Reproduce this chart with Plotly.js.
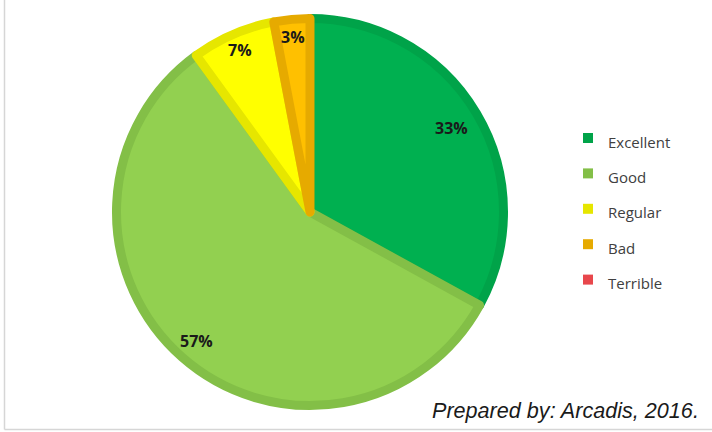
<!DOCTYPE html>
<html>
<head>
<meta charset="utf-8">
<script src="https://cdn.plot.ly/plotly-3.0.1.min.js"></script>
<style>html,body{margin:0;padding:0;background:#fff;}#chart{width:712px;height:432px;}</style>
</head>
<body>
<div id="chart"></div>
<script>
// ---- data ----
const labels = ['Excellent', 'Good', 'Regular', 'Bad', 'Terrible'];
const values = [33, 57, 7, 3, 0];
const fillColors = ['#00B050', '#92D050', '#FFFF00', '#FFC000', '#E8474C'];
const edgeColors = ['#00A349', '#83BF47', '#E6E600', '#E6AA00', '#E8474C'];
const sourceNote = 'Prepared by: Arcadis, 2016.';

// ---- layout constants ----
const W = 712, H = 432;
const CX = 310, CY = 212, EDGE = 9, R = 198 - EDGE / 2;
const labelRadius = [0.83, 0.87, 0.89, 0.89, 0.89];
const px = x => x / W;
const py = y => 1 - y / H;

const total = values.reduce((a, b) => a + b, 0);
const annotations = [];
const shapes = [];

// percent labels along slice mid-angles (clockwise from 12 o'clock)
let cum = 0;
values.forEach((v, i) => {
  const start = cum; cum += v;
  if (v <= 0) return;
  const mid = (start + v / 2) / total * 2 * Math.PI;
  const d = labelRadius[i] * 198;
  annotations.push({
    xref: 'paper', yref: 'paper',
    x: px(CX + d * Math.sin(mid)), y: py(CY - d * Math.cos(mid)),
    xanchor: 'center', yanchor: 'middle', showarrow: false,
    text: '<b>' + Math.round(v / total * 100) + '%</b>',
    font: {family: 'Open Sans, sans-serif', size: 16, color: '#1a1a1a'}
  });
});

// legend
labels.forEach((lab, i) => {
  const yc = 138 + i * 35.4;
  shapes.push({
    type: 'rect', xref: 'paper', yref: 'paper',
    x0: px(583), x1: px(593), y0: py(yc + 5), y1: py(yc - 5),
    fillcolor: edgeColors[i], line: {width: 0}
  });
  annotations.push({
    xref: 'paper', yref: 'paper', x: px(606), y: py(yc + 3.5),
    xanchor: 'left', yanchor: 'middle', showarrow: false,
    text: lab, font: {family: 'Open Sans, sans-serif', size: 15, color: '#404040'}
  });
});

// source note
annotations.push({
  xref: 'paper', yref: 'paper', x: px(701), y: py(410),
  xanchor: 'right', yanchor: 'middle', showarrow: false,
  text: '<i>' + sourceNote + '</i>',
  font: {family: 'Liberation Sans, Arial, sans-serif', size: 21.6, color: '#1a1a1a'}
});

// frame
shapes.push({type: 'line', xref: 'paper', yref: 'paper', x0: px(4.5), x1: px(4.5), y0: py(0), y1: py(429.5), line: {color: '#d6d6d6', width: 1.5}});
shapes.push({type: 'line', xref: 'paper', yref: 'paper', x0: px(4.5), x1: px(712), y0: py(429.5), y1: py(429.5), line: {color: '#d6d6d6', width: 1.5}});

const trace = {
  type: 'pie',
  labels: labels,
  values: values,
  sort: false,
  direction: 'clockwise',
  rotation: 0,
  textinfo: 'none',
  hoverinfo: 'label+percent',
  showlegend: false,
  marker: {
    colors: fillColors,
    line: {color: edgeColors, width: values.map(v => v > 0 ? EDGE : 0)}
  },
  domain: {x: [px(CX - R), px(CX + R)], y: [py(CY + R), py(CY - R)]}
};

Plotly.newPlot('chart', [trace], {
  width: W, height: H,
  margin: {l: 0, r: 0, t: 0, b: 0},
  paper_bgcolor: '#ffffff',
  showlegend: false,
  annotations: annotations,
  shapes: shapes
}, {displayModeBar: false, staticPlot: true});
</script>
</body>
</html>
